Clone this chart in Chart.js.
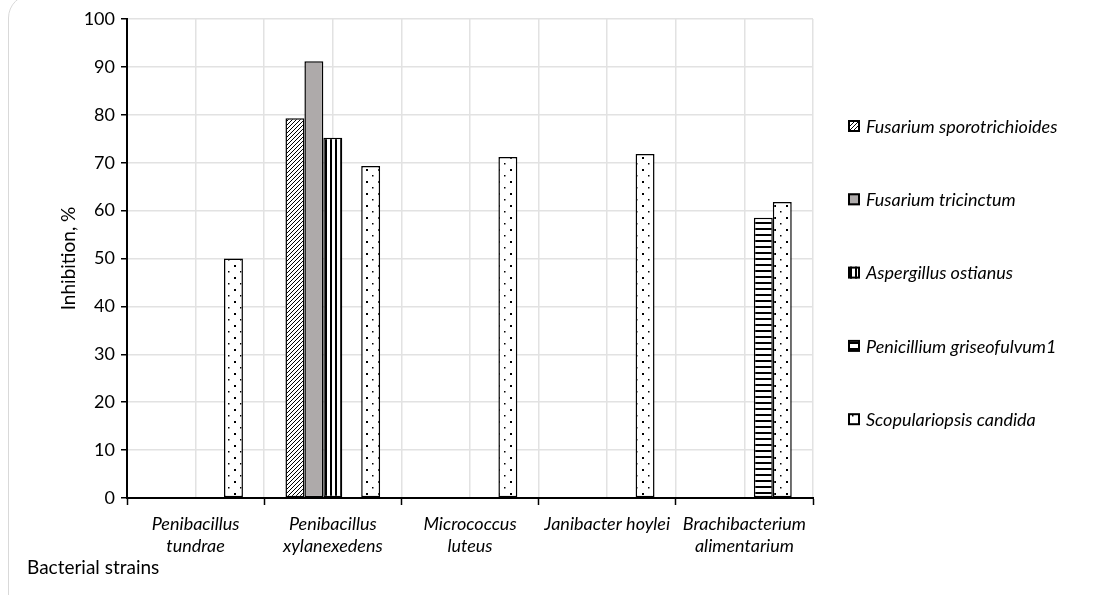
<!DOCTYPE html>
<html>
<head>
<meta charset="utf-8">
<script src="https://cdn.jsdelivr.net/npm/chart.js@4.4.1/dist/chart.umd.min.js"></script>
<style>
  html, body { margin: 0; padding: 0; background: #fff; }
  #wrap { position: relative; width: 1096px; height: 595px; overflow: hidden; }
  #frame { position: absolute; left: 8px; top: -6px; width: 1200px; height: 700px;
           border: 1px solid #d9d9d9; border-radius: 24px; pointer-events: none; }
  canvas { position: absolute; left: 0; top: 0; }
</style>
</head>
<body>
<div id="wrap">
  <canvas id="chartInhibition" width="1096" height="595"></canvas>
  <div id="frame"></div>
</div>
<script>
// ===== DATA =====
const strains = [
  ['Penibacillus', 'tundrae'],
  ['Penibacillus', 'xylanexedens'],
  ['Micrococcus', 'luteus'],
  'Janibacter hoylei',
  ['Brachibacterium', 'alimentarium']
];
const fungi = [
  'Fusarium sporotrichioides',
  'Fusarium tricinctum',
  'Aspergillus ostianus',
  'Penicillium griseofulvum1',
  'Scopulariopsis candida'
];
const fusariumSporo = [null, 79.3, null, null, null];
const fusariumTric = [null, 91.2, null, null, null];
const aspergillusOst = [null, 75.2, null, null, null];
const penicilliumGris = [null, null, null, null, 58.5];
const scopulariopsisCand = [50, 69.3, 71.2, 71.8, 61.8];
const yTicks = { min: 0, max: 100, step: 10 };
// half-category grid positions (boundaries and centres)
const gridSlots = ['', '', '', '', '', '', '', '', '', '', ''];

const FONT = 'Lato, "Open Sans", sans-serif';

// ===== FILL PATTERNS =====
function makePattern(kind) {
  const c = document.createElement('canvas');
  const g = c.getContext('2d');
  if (kind === 'hatch') {
    c.width = 4; c.height = 4;
    g.fillStyle = '#fff'; g.fillRect(0, 0, 4, 4);
    g.strokeStyle = '#000'; g.lineWidth = 1;
    g.beginPath();
    g.moveTo(-1, 5); g.lineTo(5, -1);
    g.moveTo(-1, 1); g.lineTo(1, -1);
    g.moveTo(3, 5); g.lineTo(5, 3);
    g.stroke();
  } else if (kind === 'vstripe') {
    c.width = 5; c.height = 1;
    g.fillStyle = '#fff'; g.fillRect(0, 0, 5, 1);
    g.fillStyle = '#000'; g.fillRect(0, 0, 2, 1);
  } else if (kind === 'hstripe') {
    c.width = 1; c.height = 6;
    g.fillStyle = '#fff'; g.fillRect(0, 0, 1, 6);
    g.fillStyle = '#000'; g.fillRect(0, 0, 1, 2);
  } else {
    c.width = 12; c.height = 12;
    g.fillStyle = '#fff'; g.fillRect(0, 0, 12, 12);
    g.fillStyle = '#000';
    g.fillRect(6, 1, 2, 2);
    g.fillRect(0, 7, 1.5, 1.5);
  }
  return g.createPattern(c, 'repeat');
}

const fills = [
  makePattern('hatch'),
  '#aeaaaa',
  makePattern('vstripe'),
  makePattern('hstripe'),
  makePattern('dots')
];
const seriesValues = [fusariumSporo, fusariumTric, aspergillusOst, penicilliumGris, scopulariopsisCand];

// ===== PLUGINS =====
const sideLegend = {
  id: 'sideLegend',
  afterDraw(chart) {
    const ctx = chart.ctx;
    ctx.save();
    chart.data.datasets.forEach((ds, i) => {
      const cy = 126 + i * 73.3;
      ctx.fillStyle = ds.backgroundColor;
      ctx.fillRect(848, cy - 6, 12, 12);
      ctx.strokeStyle = '#000';
      ctx.lineWidth = 2;
      ctx.strokeRect(849, cy - 5, 10, 10);
      ctx.fillStyle = '#000';
      ctx.font = 'italic 18px ' + FONT;
      ctx.textBaseline = 'middle';
      ctx.textAlign = 'left';
      ctx.fillText(ds.label, 866, cy + 1);
    });
    ctx.restore();
  }
};

const xTitle = {
  id: 'xTitle',
  afterDraw(chart) {
    const ctx = chart.ctx;
    ctx.save();
    ctx.fillStyle = '#000';
    ctx.font = '19px ' + FONT;
    ctx.textBaseline = 'middle';
    ctx.textAlign = 'left';
    ctx.fillText('Bacterial strains', 27, 568);
    ctx.restore();
  }
};

// ===== CHART =====
function renderInhibitionChart() {
  const ctx = document.getElementById('chartInhibition');
  new Chart(ctx, {
    type: 'bar',
    data: {
      labels: strains,
      datasets: fungi.map((name, i) => ({
        label: name,
        data: seriesValues[i],
        backgroundColor: fills[i],
        borderColor: '#000',
        borderWidth: 1.5,
        borderSkipped: false,
        categoryPercentage: 0.69,
        barPercentage: 1
      }))
    },
    options: {
      responsive: false,
      animation: false,
      layout: { padding: { left: 0, top: 19, right: 283, bottom: 0 } },
      plugins: {
        legend: { display: false },
        tooltip: { enabled: false }
      },
      scales: {
        x: {
          type: 'category',
          offset: true,
          grid: { offset: true, drawOnChartArea: false, drawTicks: true, tickLength: 7, tickColor: '#000', tickWidth: 1.5 },
          border: { color: '#000', width: 2 },
          ticks: { color: '#000', font: { family: FONT, size: 18, style: 'italic', lineHeight: 1.22 }, maxRotation: 0, autoSkip: false, padding: 8 },
          afterFit(scale) { scale.height = 595 - 498; }
        },
        x2: {
          type: 'category',
          labels: gridSlots,
          position: 'top',
          offset: false,
          ticks: { display: false, autoSkip: false },
          grid: { offset: false, color: '#e2e2e2', lineWidth: 1.5, drawTicks: false },
          border: { display: false }
        },
        y: {
          min: yTicks.min,
          max: yTicks.max,
          ticks: { stepSize: yTicks.step, color: '#000', font: { family: FONT, size: 18 }, padding: 6 },
          grid: { color: '#e2e2e2', lineWidth: 1.5, tickColor: '#000', tickLength: 6, tickWidth: 1.5 },
          border: { color: '#000', width: 2 },
          title: { display: true, text: 'Inhibition, %', color: '#000', font: { family: FONT, size: 19 }, padding: { top: 57, bottom: 0 } },
          afterFit(scale) { scale.width = 127; }
        }
      }
    },
    plugins: [sideLegend, xTitle]
  });
}

renderInhibitionChart();
</script>
</body>
</html>
